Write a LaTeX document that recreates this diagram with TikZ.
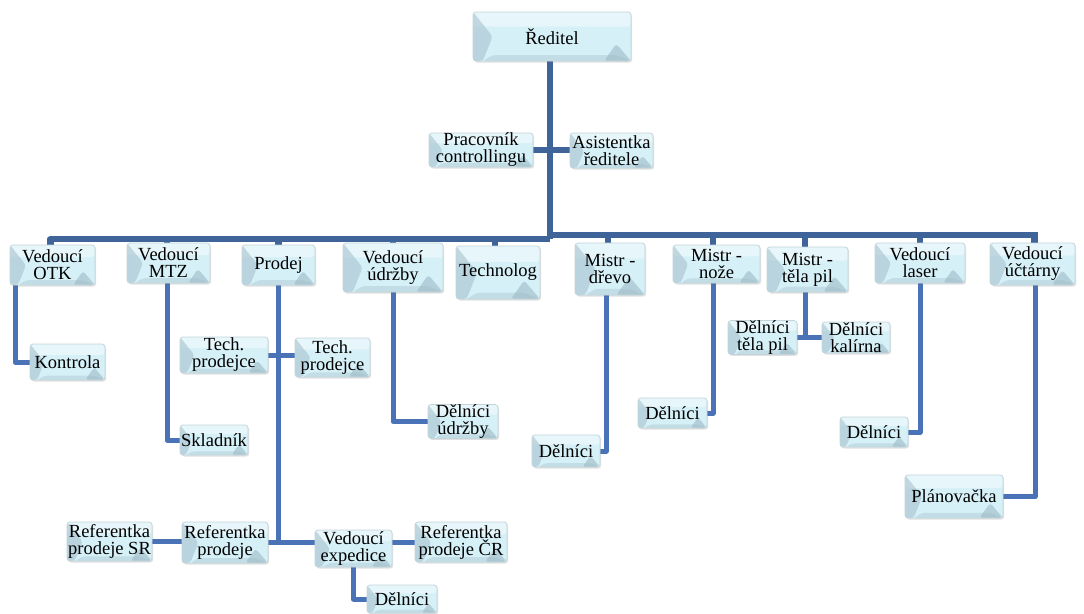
\documentclass[tikz,border=0pt]{standalone}
\usepackage{fontspec}
\setmainfont{Liberation Serif}
\usetikzlibrary{calc,backgrounds,shadows}
\definecolor{boxfill}{HTML}{D6F0F7}
\definecolor{boxdark}{HTML}{9DBAC6}
\definecolor{boxline}{HTML}{C3D5DB}
\definecolor{trunkc}{HTML}{3E6499}
\definecolor{connc}{HTML}{4A72B6}
\tikzset{
  orgbox/.style={draw=boxline, line width=0.8pt, rounded corners=3pt, fill=boxfill,
    align=center, inner sep=0pt, font=\fontsize{18.5}{17}\selectfont,
    drop shadow={shadow xshift=1.2pt, shadow yshift=-1.5pt, opacity=0.2, fill=black!60},
    path picture={
      \fill[white, opacity=0.4] let \p1=(path picture bounding box.north west),
        \p2=(path picture bounding box.south east), \n1={\y1-\y2} in
        (\x1,\y1) rectangle (\x2,\y1-0.3*\n1);
      \fill[boxdark, opacity=0.5] let \p1=(path picture bounding box.north west),
        \p2=(path picture bounding box.south east), \n1={\y1-\y2} in
        (\x1,\y1) -- (\x1+0.4*\n1,\y1-0.5*\n1) -- (\x1+0.2*\n1,\y2) -- (\x1,\y2) -- cycle;
      \fill[boxdark, opacity=0.35] let \p1=(path picture bounding box.north west),
        \p2=(path picture bounding box.south east), \n1={\y1-\y2} in
        (\x1+0.2*\n1,\y2) -- (\x1+0.4*\n1,\y2+0.12*\n1) -- (\x2-0.3*\n1,\y2+0.12*\n1) -- (\x2,\y2) -- cycle;
      \fill[boxdark, opacity=0.6] let \p1=(path picture bounding box.north west),
        \p2=(path picture bounding box.south east), \n1={\y1-\y2} in
        (\x2,\y2) -- (\x2-0.3*\n1,\y2+0.35*\n1) -- (\x2-0.55*\n1,\y2) -- cycle;
    }},
  bx/.style 2 args={minimum width=#1pt, minimum height=#2pt},
  trunkline/.style={draw=trunkc, line width=6.5pt},
  connline/.style={draw=connc, line width=5pt, line join=round},
}
\begin{document}
\begin{tikzpicture}[x=1pt, y=-1pt]
\useasboundingbox (0,0) rectangle (1084,613);

% top
\node[orgbox, bx={158}{49}] (dir) at (552,36.5) {Ředitel};
\node[orgbox, bx={104}{34}] (prac) at (481,150) {Pracovník\\controllingu};
\node[orgbox, bx={83}{35}] (asis) at (611.5,150.5) {Asistentka\\ředitele};

% second row
\node[orgbox, bx={85}{40}] (otk) at (52.5,265) {Vedoucí\\OTK};
\node[orgbox, bx={83}{40}] (mtz) at (168.5,263) {Vedoucí\\MTZ};
\node[orgbox, bx={73}{40}] (prodej) at (278.5,265) {Prodej};
\node[orgbox, bx={100}{49}] (udrz) at (393,267.5) {Vedoucí\\údržby};
\node[orgbox, bx={84}{53}] (tech) at (498,272.5) {Technolog};
\node[orgbox, bx={70}{52}] (drevo) at (610,269) {Mistr -\\dřevo};
\node[orgbox, bx={87}{38}] (noze) at (716.5,264) {Mistr -\\nože};
\node[orgbox, bx={81}{45}] (tela) at (807.5,269.5) {Mistr -\\těla pil};
\node[orgbox, bx={90}{40}] (laser) at (920,263) {Vedoucí\\laser};
\node[orgbox, bx={85}{42}] (uct) at (1032.5,264) {Vedoucí\\účtárny};

% lower
\node[orgbox, bx={75}{36}] (kontrola) at (67.5,362) {Kontrola};
\node[orgbox, bx={68}{30}] (sklad) at (214,440) {Skladník};
\node[orgbox, bx={88}{36}] (techL) at (224,355) {Tech.\\prodejce};
\node[orgbox, bx={75}{39}] (techR) at (332.5,357.5) {Tech.\\prodejce};
\node[orgbox, bx={85}{39}] (refSR) at (109.5,541.5) {Referentka\\prodeje SR};
\node[orgbox, bx={86}{41}] (refP) at (225,542.5) {Referentka\\prodeje};
\node[orgbox, bx={77}{37}] (exped) at (353.5,548.5) {Vedoucí\\expedice};
\node[orgbox, bx={92}{40}] (refCR) at (461,542) {Referentka\\prodeje ČR};
\node[orgbox, bx={70}{28}] (delExp) at (402,599) {Dělníci};
\node[orgbox, bx={70}{33}] (delUdr) at (463,421.5) {Dělníci\\údržby};
\node[orgbox, bx={68}{32}] (delDrevo) at (566,451) {Dělníci};
\node[orgbox, bx={69}{30}] (delNoze) at (672.5,413) {Dělníci};
\node[orgbox, bx={69}{31}] (delTela) at (762.5,337.5) {Dělníci\\těla pil};
\node[orgbox, bx={68}{31}] (delKal) at (856,337.5) {Dělníci\\kalírna};
\node[orgbox, bx={68}{30}] (delLaser) at (874,432) {Dělníci};
\node[orgbox, bx={98}{43}] (plan) at (954,496.5) {Plánovačka};

\begin{scope}[on background layer]
  \coordinate (busL) at (550,239);
  \coordinate (busR) at (550,235);
  \draw[trunkline] ([xshift=-2pt]dir.south) -- ([xshift=-2pt]dir.south |- busL);
  \draw[trunkline] (prac.east) -- (prac.east -| asis.west);
  \draw[trunkline, line join=round] ([xshift=-2pt]otk.north) |- (busL);
  \draw[trunkline] (busR) -| ([xshift=2pt]uct.north);
  \draw[trunkline] ([xshift=-1.5pt]mtz.north) -- ([xshift=-1.5pt]mtz.north |- busL);
  \draw[trunkline] (prodej.north) -- (prodej.north |- busL);
  \draw[trunkline] (udrz.north) -- (udrz.north |- busL);
  \draw[trunkline] ([xshift=-3pt]tech.north) -- ([xshift=-3pt]tech.north |- busL);
  \draw[trunkline] ([xshift=-2pt]drevo.north) -- ([xshift=-2pt]drevo.north |- busR);
  \draw[trunkline] ([xshift=-3.5pt]noze.north) -- ([xshift=-3.5pt]noze.north |- busR);
  \draw[trunkline] ([xshift=-2.5pt]tela.north) -- ([xshift=-2.5pt]tela.north |- busR);
  \draw[trunkline] (laser.north) -- (laser.north |- busR);

  \draw[connline] ([xshift=-37.5pt]otk.south) |- (kontrola.west);
  \draw[connline] ([xshift=-1.5pt]mtz.south) |- (sklad.west);
  \draw[connline] (prodej.south) -- ([yshift=2pt]prodej.south |- refP.east);
  \draw[connline] (refP.east) -- (refP.east -| exped.west);
  \draw[connline] (refSR.east) -- (refSR.east -| refP.west);
  \draw[connline] (refCR.west -| exped.east) -- (refCR.west);
  \draw[connline] (techL.east) -- (techL.east -| techR.west);
  \draw[connline] (exped.south) |- (delExp.west);
  \draw[connline] (udrz.south) |- (delUdr.west);
  \draw[connline] ([xshift=-4pt]drevo.south) |- (delDrevo.east);
  \draw[connline] ([xshift=-3.5pt]noze.south) |- (delNoze.east);
  \draw[connline] ([xshift=-2.5pt]tela.south) -- ([xshift=-2.5pt]tela.south |- delTela.east);
  \draw[connline] (delTela.east) -- (delKal.west);
  \draw[connline] (laser.south) |- (delLaser.east);
  \draw[connline] ([xshift=2.5pt]uct.south) |- (plan.east);
\end{scope}
\end{tikzpicture}
\end{document}
